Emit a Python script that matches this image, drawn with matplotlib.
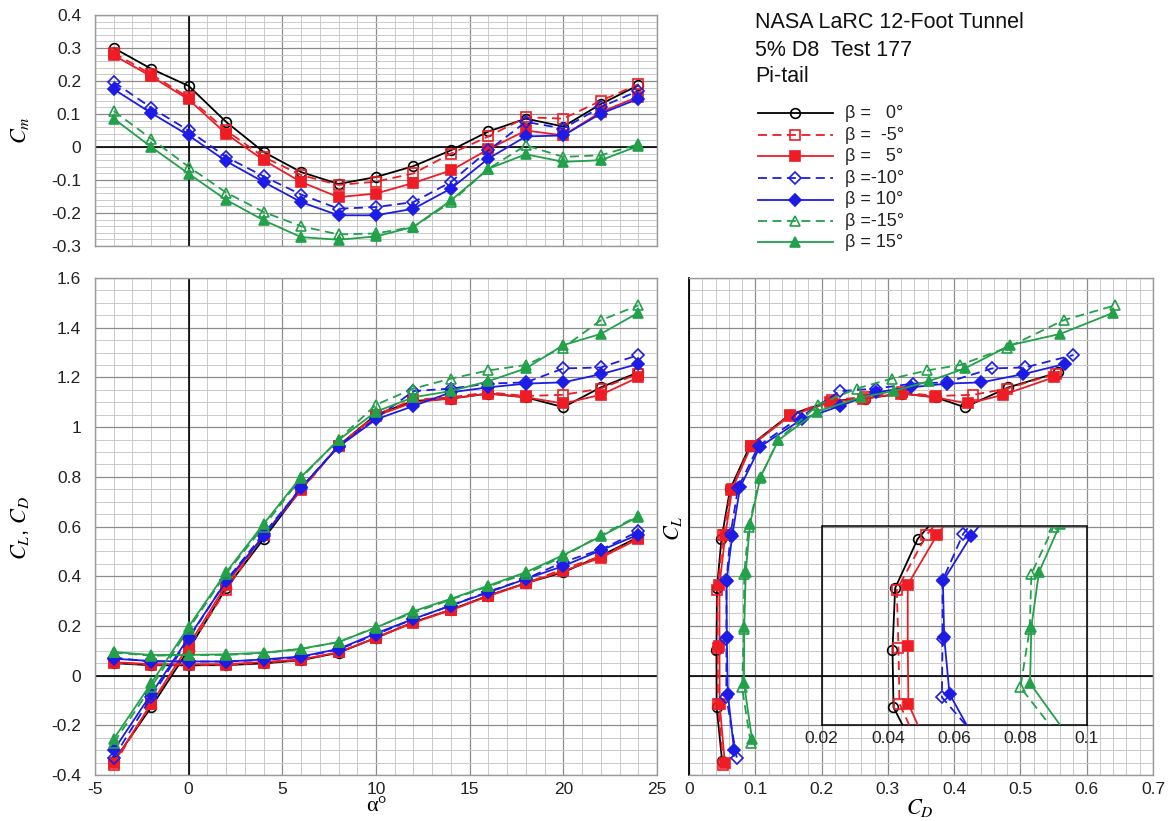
import matplotlib
matplotlib.use("Agg")
import matplotlib.pyplot as plt
from matplotlib.ticker import MultipleLocator, FuncFormatter, FixedLocator
from matplotlib.lines import Line2D

plt.rcParams['font.family'] = ['Liberation Sans', 'DejaVu Sans']
plt.rcParams['axes.unicode_minus'] = False
plt.rcParams['mathtext.fontset'] = 'stix'

# ---- data -----------------------------------------------------------------
alpha = [-4, -2, 0, 2, 4, 6, 8, 10, 12, 14, 16, 18, 20, 22, 24]

labels = ["β =   0°", "β =  -5°", "β =   5°", "β =-10°", "β = 10°", "β =-15°", "β = 15°"]

cm_b0 = [0.300, 0.237, 0.185, 0.076, -0.015, -0.076, -0.112, -0.091, -0.058, -0.010, 0.047, 0.086, 0.062, 0.130, 0.187]
cm_bm5 = [0.285, 0.220, 0.150, 0.050, -0.030, -0.085, -0.115, -0.105, -0.080, -0.020, 0.032, 0.090, 0.086, 0.140, 0.190]
cm_b5 = [0.278, 0.214, 0.144, 0.040, -0.040, -0.106, -0.152, -0.141, -0.109, -0.071, -0.007, 0.050, 0.035, 0.106, 0.152]
cm_bm10 = [0.197, 0.119, 0.050, -0.030, -0.089, -0.144, -0.187, -0.182, -0.167, -0.106, -0.010, 0.076, 0.056, 0.121, 0.170]
cm_b10 = [0.175, 0.103, 0.035, -0.043, -0.106, -0.167, -0.207, -0.207, -0.187, -0.126, -0.035, 0.032, 0.035, 0.101, 0.146]
cm_bm15 = [0.109, 0.025, -0.060, -0.138, -0.197, -0.240, -0.265, -0.262, -0.242, -0.167, -0.066, 0.005, -0.030, -0.025, 0.008]
cm_b15 = [0.086, 0.000, -0.081, -0.160, -0.222, -0.273, -0.281, -0.271, -0.242, -0.162, -0.066, -0.022, -0.045, -0.040, 0.003]

cl_b0 = [-0.345, -0.127, 0.105, 0.352, 0.550, 0.750, 0.925, 1.050, 1.105, 1.115, 1.135, 1.120, 1.080, 1.160, 1.220]
cl_bm5 = [-0.360, -0.113, 0.111, 0.345, 0.565, 0.745, 0.925, 1.050, 1.110, 1.120, 1.140, 1.125, 1.130, 1.155, 1.215]
cl_b5 = [-0.350, -0.113, 0.121, 0.366, 0.565, 0.750, 0.925, 1.045, 1.100, 1.115, 1.135, 1.120, 1.095, 1.130, 1.200]
cl_bm10 = [-0.330, -0.087, 0.148, 0.383, 0.570, 0.755, 0.925, 1.035, 1.145, 1.155, 1.175, 1.180, 1.236, 1.240, 1.290]
cl_b10 = [-0.300, -0.074, 0.154, 0.379, 0.560, 0.757, 0.921, 1.031, 1.085, 1.140, 1.160, 1.175, 1.180, 1.213, 1.254]
cl_bm15 = [-0.270, -0.047, 0.188, 0.410, 0.600, 0.795, 0.950, 1.090, 1.155, 1.195, 1.228, 1.250, 1.320, 1.430, 1.490]
cl_b15 = [-0.255, -0.031, 0.197, 0.416, 0.610, 0.800, 0.948, 1.062, 1.120, 1.145, 1.185, 1.236, 1.330, 1.375, 1.460]

cd_b0 = [0.050, 0.0417, 0.0414, 0.0422, 0.0490, 0.062, 0.092, 0.152, 0.215, 0.265, 0.322, 0.372, 0.416, 0.482, 0.557]
cd_bm5 = [0.052, 0.0435, 0.0432, 0.0427, 0.0516, 0.063, 0.093, 0.153, 0.215, 0.265, 0.322, 0.372, 0.429, 0.480, 0.553]
cd_b5 = [0.054, 0.0462, 0.0460, 0.0460, 0.0548, 0.065, 0.094, 0.152, 0.213, 0.263, 0.320, 0.371, 0.421, 0.474, 0.550]
cd_bm10 = [0.072, 0.0563, 0.0565, 0.0565, 0.0627, 0.074, 0.105, 0.165, 0.228, 0.282, 0.338, 0.389, 0.457, 0.507, 0.580]
cd_b10 = [0.068, 0.0586, 0.0570, 0.0566, 0.0650, 0.077, 0.107, 0.170, 0.228, 0.282, 0.335, 0.389, 0.441, 0.504, 0.567]
cd_bm15 = [0.093, 0.0800, 0.0828, 0.0833, 0.0900, 0.107, 0.135, 0.195, 0.253, 0.306, 0.359, 0.409, 0.480, 0.565, 0.643]
cd_b15 = [0.095, 0.0829, 0.0833, 0.0856, 0.0920, 0.108, 0.135, 0.193, 0.259, 0.309, 0.362, 0.416, 0.485, 0.560, 0.640]

cm_all = [cm_b0, cm_bm5, cm_b5, cm_bm10, cm_b10, cm_bm15, cm_b15]
cl_all = [cl_b0, cl_bm5, cl_b5, cl_bm10, cl_b10, cl_bm15, cl_b15]
cd_all = [cd_b0, cd_bm5, cd_b5, cd_bm10, cd_b10, cd_bm15, cd_b15]

# ---- styles ---------------------------------------------------------------
RED, BLUE, GREEN = '#ee1c24', '#1c1ce6', '#22a04a'
DASH = (0, (5, 3))
styles = [
    dict(color='black', ls='-', marker='o', mfc='none', ms=7),
    dict(color=RED, ls=DASH, marker='s', mfc='none', ms=6.5),
    dict(color=RED, ls='-', marker='s', mfc=RED, ms=6.5),
    dict(color=BLUE, ls=DASH, marker='D', mfc='none', ms=6.5),
    dict(color=BLUE, ls='-', marker='D', mfc=BLUE, ms=6.5),
    dict(color=GREEN, ls=DASH, marker='^', mfc='none', ms=7),
    dict(color=GREEN, ls='-', marker='^', mfc=GREEN, ms=7),
]
LW = 1.3
MEW = 1.2

W, H = 1169, 821
fig = plt.figure(figsize=(W / 100, H / 100), dpi=100)


def frac(x0, y0, x1, y1):
    return [x0 / W, 1 - y1 / H, (x1 - x0) / W, (y1 - y0) / H]


fmt = FuncFormatter(lambda v, _: f"{round(v, 6):g}")


def dress(ax, xmaj, xmin, ymaj, ymin):
    ax.xaxis.set_major_locator(MultipleLocator(xmaj))
    ax.xaxis.set_minor_locator(MultipleLocator(xmin))
    ax.yaxis.set_major_locator(MultipleLocator(ymaj))
    ax.yaxis.set_minor_locator(MultipleLocator(ymin))
    ax.xaxis.set_major_formatter(fmt)
    ax.yaxis.set_major_formatter(fmt)
    ax.grid(which='major', color='#8c8c8c', lw=0.9)
    ax.grid(which='minor', color='#cacaca', lw=0.7)
    ax.set_axisbelow(True)
    ax.tick_params(which='both', length=0, labelsize=12.5, colors='#222222')
    ax.tick_params(axis='y', pad=10)
    ax.tick_params(axis='x', pad=5)
    for s in ax.spines.values():
        s.set_color('#9a9a9a')
        s.set_linewidth(1.0)
    ax.axhline(0, color='black', lw=1.2, zorder=1.2)


def draw(ax, xs, ys, st, clip=True):
    ax.plot(xs, ys, lw=LW, mew=MEW, clip_on=clip, zorder=3, **st)


# ---- pitching moment ------------------------------------------------------
ax_cm = fig.add_axes(frac(95, 15, 657, 246))
dress(ax_cm, 5, 1, 0.1, 0.02)
ax_cm.set_xlim(-5, 25)
ax_cm.set_ylim(-0.3, 0.4)
ax_cm.axvline(0, color='black', lw=1.2, zorder=1.2)
ax_cm.tick_params(axis='x', labelbottom=False)
for cm, st in zip(cm_all, styles):
    draw(ax_cm, alpha, cm, st)

# ---- lift and drag vs alpha -----------------------------------------------
ax_l = fig.add_axes(frac(95, 278, 657, 775))
dress(ax_l, 5, 1, 0.2, 0.05)
ax_l.set_xlim(-5, 25)
ax_l.set_ylim(-0.4, 1.6)
ax_l.axvline(0, color='black', lw=1.2, zorder=1.2)
for cl, cd, st in zip(cl_all, cd_all, styles):
    draw(ax_l, alpha, cl, st)
    draw(ax_l, alpha, cd, st)

# ---- drag polar -----------------------------------------------------------
ax_r = fig.add_axes(frac(689, 278, 1153, 775))
dress(ax_r, 0.1, 0.02, 0.2, 0.05)
ax_r.set_xlim(0, 0.7)
ax_r.set_ylim(-0.4, 1.6)
ax_r.tick_params(axis='y', labelleft=False)
ax_r.spines['left'].set_color('black')
ax_r.spines['left'].set_linewidth(1.3)
for cl, cd, st in zip(cl_all, cd_all, styles):
    draw(ax_r, cd, cl, st)

# expanded view of the low-drag region
ax_in = ax_r.inset_axes([0.2, -0.2, 0.4, 0.8], transform=ax_r.transData)
ax_in.set_facecolor('none')
ax_in.set_xlim(0.02, 0.1)
ax_in.set_ylim(-0.2, 0.6)
ax_in.xaxis.set_major_locator(FixedLocator([0.02, 0.04, 0.06, 0.08, 0.1]))
ax_in.xaxis.set_major_formatter(fmt)
ax_in.set_yticks([])
ax_in.tick_params(length=0, labelsize=12.5, pad=4, colors='#222222')
for s in ax_in.spines.values():
    s.set_color('black')
    s.set_linewidth(1.1)
for cl, cd, st in zip(cl_all, cd_all, styles):
    ax_in.plot(cd, cl, lw=LW, mew=MEW, zorder=3, **st)

# ---- axis titles ----------------------------------------------------------
fig.text(20 / W, 1 - 130 / H, r"$C_m$", rotation=90, ha='center', va='center', fontsize=16)
fig.text(20 / W, 1 - 528 / H, r"$C_L$, $C_D$", rotation=90, ha='center', va='center', fontsize=16)
fig.text(673 / W, 1 - 528 / H, r"$C_L$", rotation=90, ha='center', va='center', fontsize=16)
fig.text(376 / W, 1 - 806 / H, "α°", ha='center', va='center', fontsize=16, family='Liberation Serif')
fig.text(920 / W, 1 - 808 / H, r"$C_D$", ha='center', va='center', fontsize=16)

# ---- header and key -------------------------------------------------------
for txt, y in zip(["NASA LaRC 12-Foot Tunnel", "5% D8  Test 177", "Pi-tail"], [23, 50, 77]):
    fig.text(755 / W, 1 - y / H, txt, ha='left', va='center', fontsize=15.5, color='#111111')

for i, (lab, st) in enumerate(zip(labels, styles)):
    y = 1 - (113.5 + i * 21.5) / H
    ln = Line2D([758 / W, 795.5 / W, 833 / W], [y, y, y], transform=fig.transFigure,
                lw=LW, mew=MEW, markevery=[1], **st)
    fig.add_artist(ln)
    fig.text(845 / W, y, lab, ha='left', va='center', fontsize=13, color='#222222')

fig.savefig("out.png", dpi=100, facecolor='white')
